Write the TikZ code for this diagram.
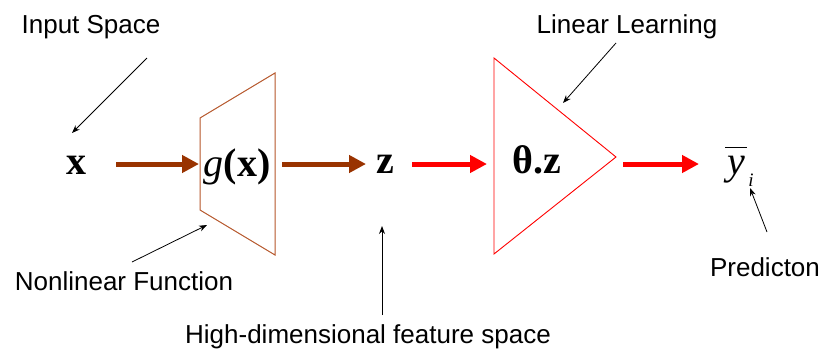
\documentclass[tikz,border=0pt]{standalone}
\usepackage{fontspec}
\setmainfont{Liberation Serif}
\newfontfamily\labfont{Liberation Sans}
\usetikzlibrary{arrows.meta}
\definecolor{brownarrow}{HTML}{993300}
\definecolor{trapcol}{HTML}{B5562A}
\begin{document}
\begin{tikzpicture}[x=1pt,y=-1pt,
  lab/.style={font=\labfont\fontsize{26}{30}\selectfont, inner sep=0, anchor=base},
  sym/.style={font=\fontsize{40}{44}\selectfont\bfseries, inner sep=0},
  thinarrow/.style={draw=black, line width=0.8pt, -{Stealth[length=8pt,width=6pt]}},
  fatbrown/.style={draw=brownarrow, line width=5pt, -{Triangle[length=17pt,width=17pt]}},
  fatred/.style={draw=red, line width=5pt, -{Triangle[length=17pt,width=17pt]}}]
\useasboundingbox (0,0) rectangle (823,354);
% labels
\node[lab] (inlab) at (91,33) {Input Space};
\node[lab] (linlab) at (627,33) {Linear Learning};
\node[lab] (nonlab) at (124,290) {Nonlinear Function};
\node[lab] (predlab) at (765,276) {Predicton};
\node[lab] (hilab) at (368,343) {High-dimensional feature space};
% symbols
\node[sym] (x) at (76,165) {x};
\node[sym, anchor=base] (gx) at (237,176) {\textit{\mdseries g}(x)};
\node[sym] (z) at (385,164) {z};
\node[sym, anchor=base] (tz) at (537,173) {θ.z};
\node[font=\fontsize{40}{44}\selectfont\itshape, inner sep=0, anchor=base] (y) at (736,174) {y};
\node[font=\fontsize{19}{22}\selectfont\itshape, inner sep=0, anchor=base] (i) at (751,186) {i};
\coordinate (ybarL) at (725,147);
\coordinate (ybarR) at (747,147);
\draw[line width=1pt] (ybarL) -- (ybarR);
% shapes
\coordinate (t1) at (200,118);
\coordinate (t2) at (275,73);
\coordinate (t3) at (275,255);
\coordinate (t4) at (200,210);
\draw[trapcol, line width=1pt] (t1) -- (t2) -- (t3) -- (t4) -- cycle;
\coordinate (r1) at (494,58);
\coordinate (r2) at (616,157);
\coordinate (r3) at (494,254);
\draw[red, line width=0.9pt] (r1) -- (r2) -- (r3) -- cycle;
% fat arrows
\coordinate (a1s) at (116,164);
\coordinate (a1e) at (199,164);
\coordinate (a2s) at (282,164);
\coordinate (a2e) at (366,164);
\coordinate (a3s) at (412,164);
\coordinate (a3e) at (487,164);
\coordinate (a4s) at (623,164);
\coordinate (a4e) at (699,164);
\draw[fatbrown] (a1s) -- (a1e);
\draw[fatbrown] (a2s) -- (a2e);
\draw[fatred] (a3s) -- (a3e);
\draw[fatred] (a4s) -- (a4e);
% thin annotation arrows
\coordinate (p1s) at (147,58);  \coordinate (p1e) at (72,133);
\coordinate (p2s) at (616,43);  \coordinate (p2e) at (563,103);
\coordinate (p3s) at (132,262); \coordinate (p3e) at (207,225);
\coordinate (p4s) at (382,315); \coordinate (p4e) at (382,226);
\coordinate (p5s) at (767,232); \coordinate (p5e) at (750,188);
\draw[thinarrow] (p1s) -- (p1e);
\draw[thinarrow] (p2s) -- (p2e);
\draw[thinarrow] (p3s) -- (p3e);
\draw[thinarrow] (p4s) -- (p4e);
\draw[thinarrow] (p5s) -- (p5e);
\end{tikzpicture}
\end{document}
